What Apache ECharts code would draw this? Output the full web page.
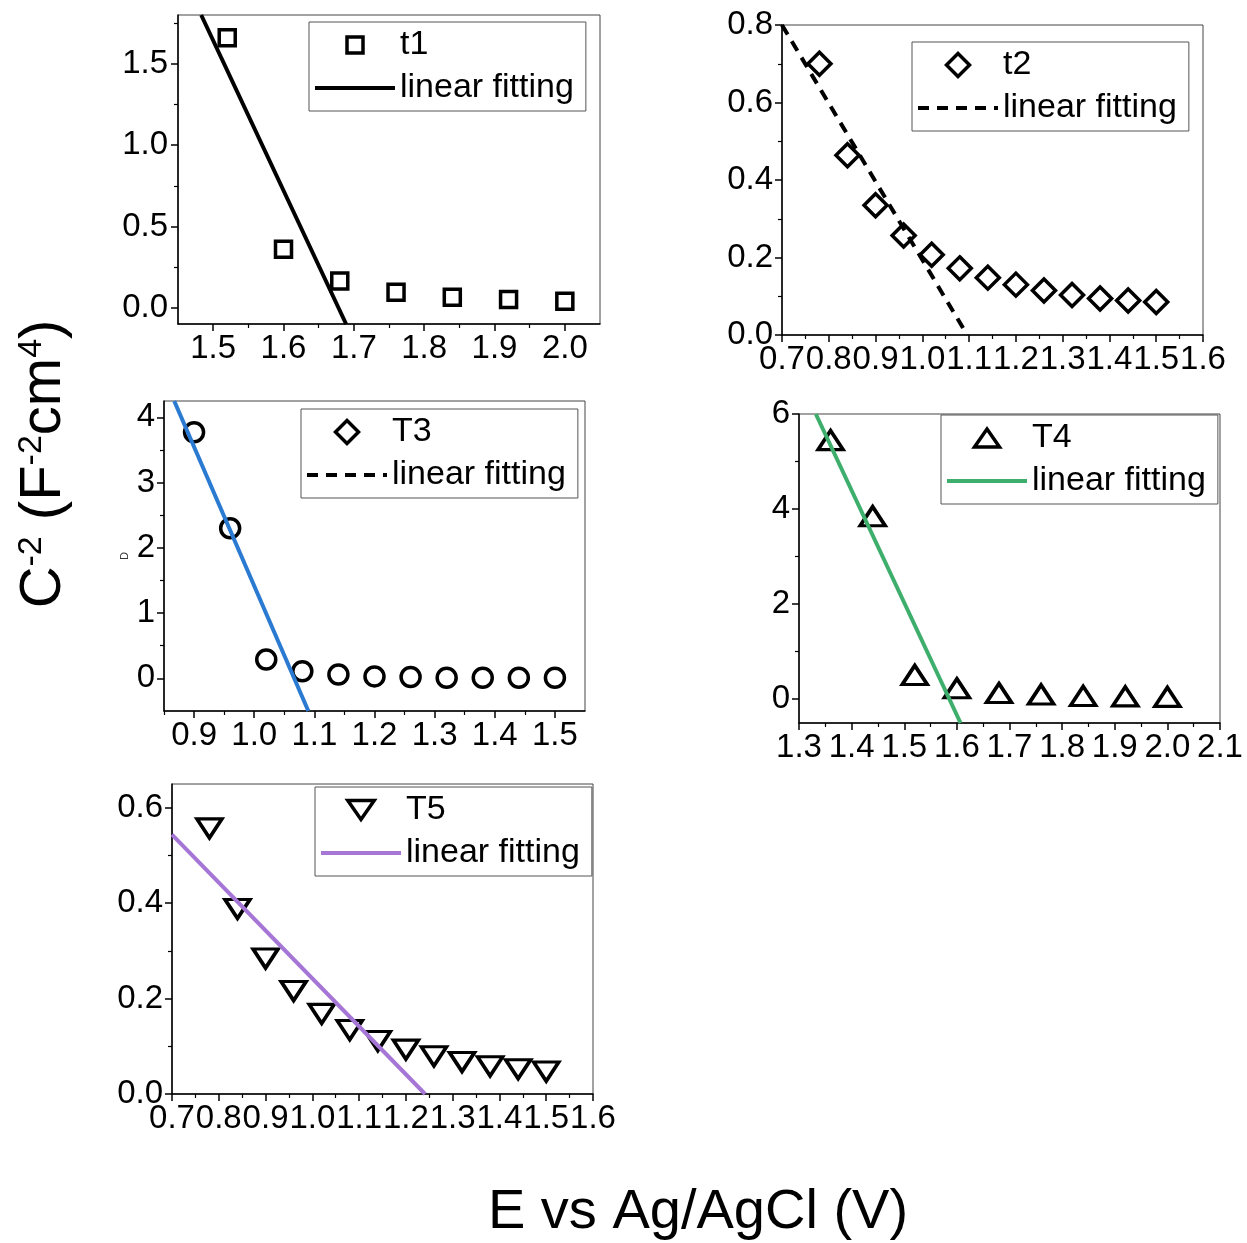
<!DOCTYPE html>
<html>
<head>
<meta charset="utf-8">
<script src="https://cdn.jsdelivr.net/npm/echarts@6/dist/echarts.min.js"></script>
<style>
html,body{margin:0;padding:0;background:#fff;}
#c{width:1247px;height:1243px;}
</style>
</head>
<body>
<div id="c"></div>
<script>
// ---------------- data ----------------
const t1X = [1.52, 1.60, 1.68, 1.76, 1.84, 1.92, 2.00];
const t1Y = [1.66, 0.36, 0.165, 0.095, 0.065, 0.05, 0.04];
const t1FitX = [1.483, 1.689];
const t1FitY = [1.80, -0.10];
const t1XTicks = [1.5, 1.6, 1.7, 1.8, 1.9, 2.0];
const t1YTicks = [0.0, 0.5, 1.0, 1.5];

const t2X = [0.78, 0.84, 0.90, 0.96, 1.02, 1.08, 1.14, 1.20, 1.26, 1.32, 1.38, 1.44, 1.50];
const t2Y = [0.700, 0.464, 0.335, 0.257, 0.207, 0.172, 0.148, 0.130, 0.115, 0.103, 0.094, 0.089, 0.085];
const t2FitX = [0.70, 1.096];
const t2FitY = [0.80, 0.0];
const t2XTicks = [0.7, 0.8, 0.9, 1.0, 1.1, 1.2, 1.3, 1.4, 1.5, 1.6];
const t2YTicks = [0.0, 0.2, 0.4, 0.6, 0.8];

const t3X = [0.90, 0.96, 1.02, 1.08, 1.14, 1.20, 1.26, 1.32, 1.38, 1.44, 1.50];
const t3Y = [3.77, 2.30, 0.29, 0.11, 0.06, 0.03, 0.02, 0.01, 0.01, 0.01, 0.01];
const t3FitX = [0.867, 1.090];
const t3FitY = [4.25, -0.50];
const t3XTicks = [0.9, 1.0, 1.1, 1.2, 1.3, 1.4, 1.5];
const t3YTicks = [0, 1, 2, 3, 4];

const t4X = [1.36, 1.44, 1.52, 1.60, 1.68, 1.76, 1.84, 1.92, 2.00];
const t4Y = [5.45, 3.85, 0.51, 0.23, 0.13, 0.10, 0.07, 0.06, 0.05];
const t4FitX = [1.332, 1.607];
const t4FitY = [6.0, -0.5];
const t4XTicks = [1.3, 1.4, 1.5, 1.6, 1.7, 1.8, 1.9, 2.0, 2.1];
const t4YTicks = [0, 2, 4, 6];

const t5X = [0.78, 0.84, 0.90, 0.96, 1.02, 1.08, 1.14, 1.20, 1.26, 1.32, 1.38, 1.44, 1.50];
const t5Y = [0.557, 0.388, 0.284, 0.216, 0.168, 0.134, 0.111, 0.093, 0.079, 0.067, 0.058, 0.052, 0.047];
const t5FitX = [0.70, 1.241];
const t5FitY = [0.544, 0.0];
const t5XTicks = [0.7, 0.8, 0.9, 1.0, 1.1, 1.2, 1.3, 1.4, 1.5, 1.6];
const t5YTicks = [0.0, 0.2, 0.4, 0.6];

const seriesNames = ['t1', 't2', 'T3', 'T4', 'T5'];
const fitLabel = 'linear fitting';
const yTitle = 'C{sup|-2} (F{sup|-2}cm{sup|4})';
const xTitle = 'E vs Ag/AgCl (V)';

// ---------------- layout / style ----------------
const FONT = "'Liberation Sans', Arial, Helvetica, sans-serif";
const SQUARE = 'path://M0,0 L10,0 L10,10 L0,10 Z';
const DIAMOND = 'path://M5,0 L10,5 L5,10 L0,5 Z';
const UP_TRI = 'path://M12.5,0 L25,18 L0,18 Z';
const DOWN_TRI = 'path://M0,0 L25,0 L12.5,18 Z';

const panels = [
  {x:t1X, y:t1Y, fx:t1FitX, fy:t1FitY, xt:t1XTicks, yt:t1YTicks, xr:[1.45,2.05], yr:[-0.1,1.8], xdec:1, ydec:1,
   grid:{left:178, top:15, width:422, height:309}, ym:10,
   sym:SQUARE, symSize:16, color:'#000', dash:'solid',
   leg:{left:309, top:22, ih:16}, legIcon:null, legLine:null},
  {x:t2X, y:t2Y, fx:t2FitX, fy:t2FitY, xt:t2XTicks, yt:t2YTicks, xr:[0.7,1.6], yr:[0,0.8], xdec:1, ydec:1,
   grid:{left:782, top:25, width:421, height:310}, ym:9,
   sym:DIAMOND, symSize:23, color:'#000', dash:[11,8],
   leg:{left:912, top:42, ih:23}, legIcon:null, legLine:null},
  {x:t3X, y:t3Y, fx:t3FitX, fy:t3FitY, xt:t3XTicks, yt:t3YTicks, xr:[0.85,1.55], yr:[-0.5,4.25], xdec:1, ydec:0,
   grid:{left:164, top:401, width:421, height:310}, ym:9,
   sym:'circle', symSize:19, color:'#2a7ad2', dash:'solid',
   leg:{left:301, top:409, ih:23}, legIcon:DIAMOND, legLine:{color:'#000', type:[11,8]}, yname:'D'},
  {x:t4X, y:t4Y, fx:t4FitX, fy:t4FitY, xt:t4XTicks, yt:t4YTicks, xr:[1.3,2.1], yr:[-0.5,6], xdec:1, ydec:0,
   grid:{left:799, top:414, width:421, height:309}, ym:9,
   sym:UP_TRI, symSize:[25,19], color:'#3dae6b', dash:'solid',
   leg:{left:941, top:415, ih:18}, legIcon:null, legLine:null},
  {x:t5X, y:t5Y, fx:t5FitX, fy:t5FitY, xt:t5XTicks, yt:t5YTicks, xr:[0.7,1.6], yr:[0,0.65], xdec:1, ydec:1,
   grid:{left:172, top:784, width:421, height:310}, ym:9,
   sym:DOWN_TRI, symSize:[25,19], color:'#a676d6', dash:'solid',
   leg:{left:315, top:787, ih:19}, legIcon:null, legLine:null}
];

function makeAxis(i, range, ticks, dec, margin, extra) {
  const step = ticks[1] - ticks[0];
  const ax = {
    type:'value', gridIndex:i, min:range[0], max:range[1],
    splitNumber: Math.round((range[1]-range[0]) / step),
    axisLine:{show:true, onZero:false, lineStyle:{color:'#000', width:1.5}},
    axisTick:{show:true, inside:false, length:7, customValues:ticks, lineStyle:{color:'#000', width:1.5}},
    minorTick:{show:true, splitNumber:2, length:4, lineStyle:{color:'#000', width:1.2}},
    axisLabel:{show:true, customValues:ticks, showMinLabel:true, showMaxLabel:true, hideOverlap:false, margin:margin,
      color:'#000', fontFamily:FONT, fontSize:33,
      formatter:function(v){
        const ok = ticks.some(t => Math.abs(t - v) < step * 1e-3);
        return ok ? Number(v).toFixed(dec) : '';
      }},
    splitLine:{show:false}, minorSplitLine:{show:false}
  };
  return Object.assign(ax, extra || {});
}

const grid = [], xAxis = [], yAxis = [], series = [], legend = [];
panels.forEach((p, i) => {
  grid.push(Object.assign({show:true, borderColor:'#444', borderWidth:1, backgroundColor:'#fff',
    containLabel:false, outerBoundsMode:'none'}, p.grid));
  xAxis.push(makeAxis(i, p.xr, p.xt, p.xdec, 8));
  const yExtra = p.yname ? {name:p.yname, nameLocation:'middle', nameGap:34, nameRotate:90,
    nameTextStyle:{fontFamily:FONT, fontSize:11, color:'#333'}} : {};
  yAxis.push(makeAxis(i, p.yr, p.yt, p.ydec, p.ym, yExtra));
  const sName = seriesNames[i];
  const fName = 'fit' + (i + 1);
  series.push({
    type:'scatter', name:sName, xAxisIndex:i, yAxisIndex:i, z:2, silent:true,
    symbol:p.sym, symbolSize:p.symSize,
    itemStyle:{color:'#fff', borderColor:'#000', borderWidth:3.5, opacity:1},
    data:p.x.map((v, k) => [v, p.y[k]])
  });
  series.push({
    type:'line', name:fName, xAxisIndex:i, yAxisIndex:i, z:3, silent:true,
    symbol:'none', showSymbol:false, clip:true,
    lineStyle:{color:p.color, width:4, type:p.dash},
    itemStyle:{color:p.color},
    data:p.fx.map((v, k) => [v, p.fy[k]])
  });
  const item1 = {name:sName};
  if (p.legIcon) item1.icon = p.legIcon;
  const item2 = {name:fName, itemStyle:{opacity:0}};
  if (p.legLine) item2.lineStyle = p.legLine;
  legend.push({
    show:true, orient:'vertical', left:p.leg.left, top:p.leg.top,
    data:[item1, item2],
    itemWidth:80, itemHeight:p.leg.ih, itemGap:9,
    padding:[6,12,6,4], borderColor:'#555', borderWidth:1, backgroundColor:'#fff',
    selectedMode:false, symbolKeepAspect:true,
    itemStyle:{borderWidth:3.5},
    lineStyle:{width:4},
    textStyle:{fontFamily:FONT, fontSize:34, color:'#000'},
    formatter:function(n){ return n.indexOf('fit') === 0 ? fitLabel : n; }
  });
});

const chart = echarts.init(document.getElementById('c'), null, {renderer:'canvas'});
chart.setOption({
  animation:false,
  backgroundColor:'#fff',
  grid:grid, xAxis:xAxis, yAxis:yAxis, series:series, legend:legend,
  graphic:[
    {type:'text', x:44, y:464, rotation:Math.PI/2, silent:true,
     style:{text:yTitle, fontFamily:FONT, fontSize:58, fill:'#000', align:'center', verticalAlign:'middle',
       rich:{sup:{fontFamily:FONT, fontSize:34, fill:'#000', verticalAlign:'top'}}}},
    {type:'text', x:698, y:1213, silent:true,
     style:{text:xTitle, fontFamily:FONT, fontSize:56, fill:'#000', align:'center', verticalAlign:'middle'}}
  ]
});
</script>
</body>
</html>
